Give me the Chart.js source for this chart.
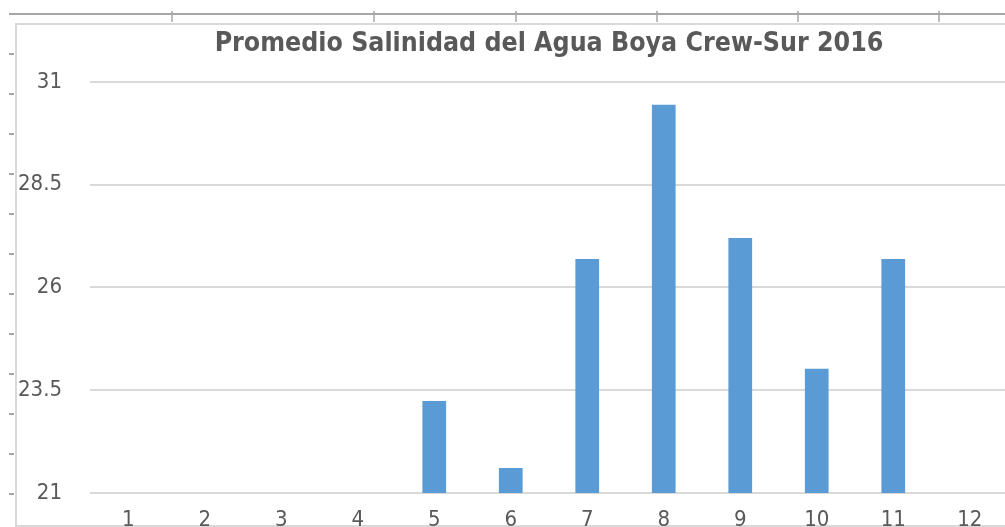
<!DOCTYPE html>
<html>
<head>
<meta charset="utf-8">
<script src="https://cdn.jsdelivr.net/npm/chart.js@4.4.1/dist/chart.umd.min.js"></script>
<style>
  html, body { margin: 0; padding: 0; background: #fff; overflow: hidden; }
  #wrap { position: relative; width: 1020px; height: 527px; }
</style>
</head>
<body>
<div id="wrap"><canvas id="myChart" width="1020" height="527"></canvas></div>
<script>
// data
var months = ['1', '2', '3', '4', '5', '6', '7', '8', '9', '10', '11', '12'];
var salinidad = [null, null, null, null, 23.24, 21.61, 26.69, 30.44, 27.2, 24.02, 26.69, null];
var yTicks = [21, 23.5, 26, 28.5, 31];

var textColor = '#595959';
var fontFam = '"DejaVu Sans Condensed", "DejaVu Sans", sans-serif';

// ruler / frame leftovers around the pasted chart
var framePlugin = {
    id: 'frame',
    beforeDraw: function (chart) {
        var c = chart.ctx;
        c.save();
        // top ruler
        c.strokeStyle = '#a6a6a6';
        c.lineWidth = 2;
        c.beginPath();
        c.moveTo(9, 14);
        c.lineTo(1020, 14);
        c.stroke();
        c.lineWidth = 1.5;
        [172, 374, 516, 657, 798, 939].forEach(function (x) {
            c.beginPath();
            c.moveTo(x, 11);
            c.lineTo(x, 22);
            c.stroke();
        });
        // left ruler ticks
        c.lineWidth = 2;
        for (var y = 54; y <= 494; y += 40) {
            c.beginPath();
            c.moveTo(9, y);
            c.lineTo(14, y);
            c.stroke();
        }
        // chart border
        c.strokeStyle = '#d9d9d9';
        c.lineWidth = 2;
        c.beginPath();
        c.moveTo(16, 527);
        c.lineTo(16, 24);
        c.lineTo(1020, 24);
        c.stroke();
        c.beginPath();
        c.moveTo(16, 526);
        c.lineTo(1020, 526);
        c.stroke();
        c.restore();
    }
};

var ctx = document.getElementById('myChart').getContext('2d');
var myChart = new Chart(ctx, {
    type: 'bar',
    data: {
        labels: months,
        datasets: [{
            label: 'Salinidad',
            data: salinidad,
            backgroundColor: '#5b9bd5',
            borderWidth: 0,
            barPercentage: 0.62,
            categoryPercentage: 0.5
        }]
    },
    options: {
        responsive: false,
        animation: false,
        devicePixelRatio: 1,
        layout: { padding: { left: 0, right: 12, top: 0, bottom: 0 } },
        plugins: {
            legend: { display: false },
            tooltip: { enabled: false },
            title: {
                display: true,
                fullSize: false,
                text: 'Promedio Salinidad del Agua Boya Crew-Sur 2016',
                color: textColor,
                font: { family: fontFam, size: 26.5, weight: 'bold', lineHeight: 1.2 },
                padding: { top: 28, bottom: 22 }
            }
        },
        scales: {
            x: {
                grid: { display: false, drawTicks: false },
                border: { display: false },
                ticks: {
                    color: textColor,
                    font: { family: fontFam, size: 22 },
                    padding: 14,
                    maxRotation: 0
                },
                afterFit: function (scale) { scale.height = 34; }
            },
            y: {
                min: 21,
                max: 31,
                afterBuildTicks: function (scale) {
                    scale.ticks = yTicks.map(function (v) { return { value: v }; });
                },
                grid: { color: '#d9d9d9', lineWidth: 2, drawTicks: false },
                border: { display: false },
                ticks: {
                    color: textColor,
                    font: { family: fontFam, size: 22 },
                    padding: 28
                },
                afterFit: function (scale) {
                    scale.width = 90;
                    scale.paddingTop = 0;
                    scale.paddingBottom = 0;
                }
            }
        }
    },
    plugins: [framePlugin]
});
</script>
</body>
</html>
